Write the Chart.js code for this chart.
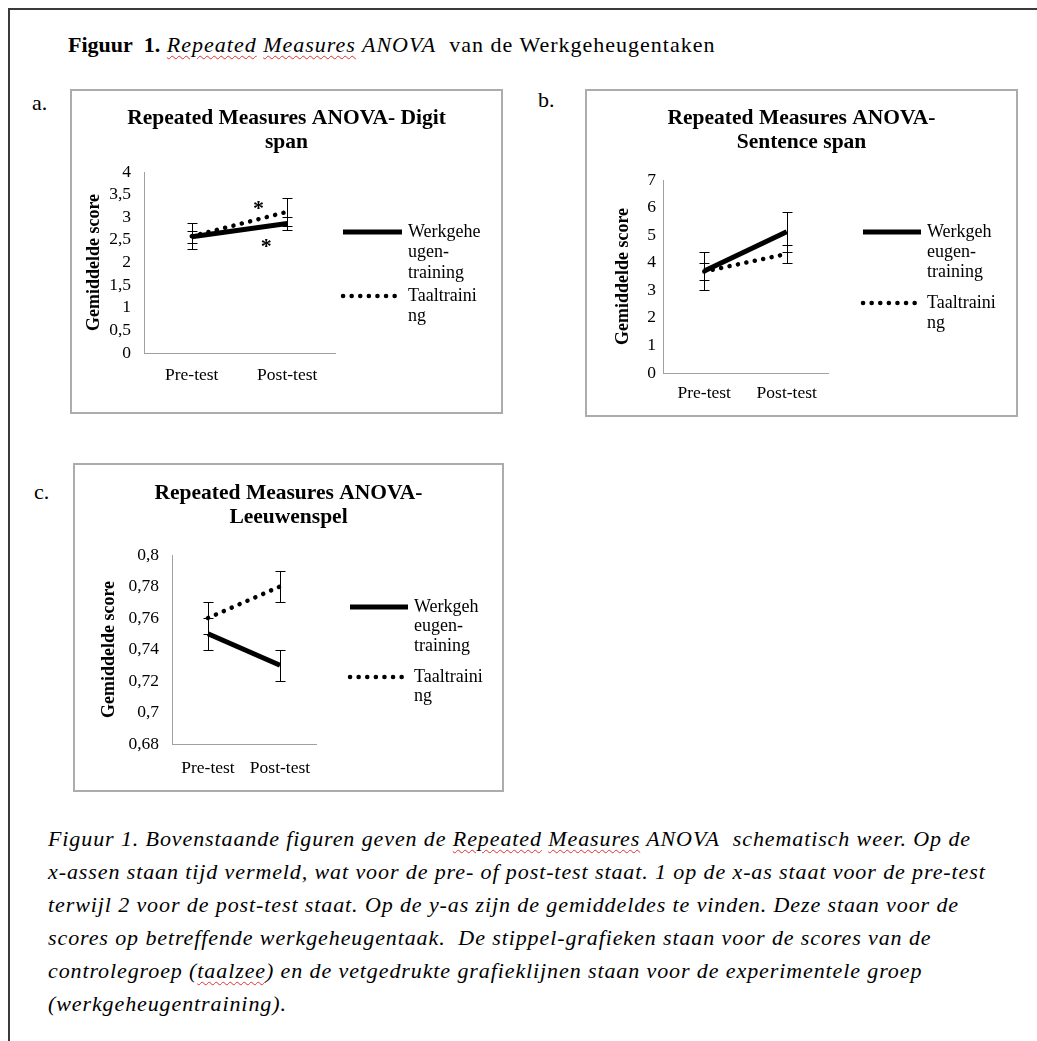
<!DOCTYPE html>
<html><head><meta charset="utf-8">
<script src="https://cdn.jsdelivr.net/npm/chart.js@4.4.1/dist/chart.umd.min.js"></script>
<style>
html,body{margin:0;padding:0;background:#fff;}
body{width:1037px;height:1041px;position:relative;overflow:hidden;font-family:'Liberation Serif','Times New Roman',serif;color:#000;}
#frame{position:absolute;left:8px;top:8px;width:1040px;height:1050px;border-left:2px solid #3a3a3a;border-top:2px solid #3a3a3a;}
.panel{position:absolute;}
.panel canvas{position:absolute;left:0;top:0;}
.panel .bd{position:absolute;left:0;top:0;right:0;bottom:0;border:2px solid #acacac;box-sizing:border-box;pointer-events:none;}
.lbl{position:absolute;font-size:22px;line-height:24px;}
#heading{position:absolute;left:68px;top:33px;font-size:22px;line-height:24px;white-space:nowrap;}
#heading .rest{letter-spacing:1px;}
.sp{text-decoration:underline wavy #e03030;text-decoration-thickness:1px;text-underline-offset:3px;}
#caption{position:absolute;left:48px;top:822px;font-size:22px;font-style:italic;line-height:33px;white-space:nowrap;letter-spacing:0.9px;}
</style></head>
<body>
<div id="frame"></div>
<div id="heading"><b>Figuur&nbsp; 1.</b><span class="rest"> <i><span class="sp">Repeated</span> <span class="sp">Measures</span> ANOVA</i>&nbsp; van de Werkgeheugentaken</span></div>
<div class="lbl" style="left:32px;top:91px;">a.</div>
<div class="lbl" style="left:538px;top:88px;">b.</div>
<div class="lbl" style="left:34px;top:480px;">c.</div>

<div class="panel" style="left:70px;top:89px;width:433px;height:325px;"><canvas id="cA" width="433" height="325"></canvas><div class="bd"></div></div>
<div class="panel" style="left:585px;top:89px;width:433px;height:328px;"><canvas id="cB" width="433" height="328"></canvas><div class="bd"></div></div>
<div class="panel" style="left:73px;top:463px;width:431px;height:329px;"><canvas id="cC" width="431" height="329"></canvas><div class="bd"></div></div>

<div id="caption">Figuur 1. Bovenstaande figuren geven de <span class="sp">Repeated</span> <span class="sp">Measures</span> ANOVA&nbsp; schematisch weer. Op de<br>x-assen staan tijd vermeld, wat voor de pre- of post-test staat. 1 op de x-as staat voor de pre-test<br>terwijl 2 voor de post-test staat. Op de y-as zijn de gemiddeldes te vinden. Deze staan voor de<br>scores op betreffende werkgeheugentaak.&nbsp; De stippel-grafieken staan voor de scores van de<br>controlegroep (<span class="sp">taalzee</span>) en de vetgedrukte grafieklijnen staan voor de experimentele groep<br>(werkgeheugentraining).</div>

<script>
// ---------- DATA ----------
const categories = ['Pre-test', 'Post-test'];
const seriesNames = ['Werkgeheugen-training', 'Taaltraining'];
const yAxisTitle = 'Gemiddelde score';

// a. Digit span
const titleA = ['Repeated Measures ANOVA- Digit', 'span'];
const digitWerk = [2.57, 2.86];
const digitWerkErr = [0.13, 0.14];
const digitTaal = [2.58, 3.12];
const digitTaalErr = [0.29, 0.31];
const digitTicks = [0, 0.5, 1, 1.5, 2, 2.5, 3, 3.5, 4];
const digitTickLabels = ['0', '0,5', '1', '1,5', '2', '2,5', '3', '3,5', '4'];
const digitStarX = [0.70, 0.78];
const digitStarY = [3.26, 2.43];
const legendA = [['Werkgehe', 'ugen-', 'training'], ['Taaltraini', 'ng']];

// b. Sentence span
const titleB = ['Repeated Measures ANOVA-', 'Sentence span'];
const sentWerk = [3.70, 5.12];
const sentWerkErr = [0.70, 0.73];
const sentTaal = [3.68, 4.32];
const sentTaalErr = [0.32, 0.33];
const sentTicks = [0, 1, 2, 3, 4, 5, 6, 7];
const sentTickLabels = ['0', '1', '2', '3', '4', '5', '6', '7'];
const legendB = [['Werkgeh', 'eugen-', 'training'], ['Taaltraini', 'ng']];

// c. Leeuwenspel
const titleC = ['Repeated Measures ANOVA-', 'Leeuwenspel'];
const leeuwWerk = [0.75, 0.73];
const leeuwWerkErr = [0.01, 0.01];
const leeuwTaal = [0.76, 0.78];
const leeuwTaalErr = [0.01, 0.01];
const leeuwTicks = [0.68, 0.70, 0.72, 0.74, 0.76, 0.78, 0.80];
const leeuwTickLabels = ['0,68', '0,7', '0,72', '0,74', '0,76', '0,78', '0,8'];
const legendC = [['Werkgeh', 'eugen-', 'training'], ['Taaltraini', 'ng']];

// ---------- PLUGINS ----------
Chart.defaults.font.family = "'Liberation Serif','Times New Roman',serif";
Chart.defaults.color = '#000';

const errorBarPlugin = {
  id: 'errorBars',
  afterDatasetsDraw(chart) {
    const ctx = chart.ctx, ys = chart.scales.y;
    chart.data.datasets.forEach((ds, di) => {
      if (!ds.errors) return;
      const meta = chart.getDatasetMeta(di);
      ctx.save();
      ctx.strokeStyle = '#000';
      ctx.lineWidth = 1;
      meta.data.forEach((pt, i) => {
        const v = ds.data[i], e = ds.errors[i];
        const x = Math.round(pt.x) + 0.5;
        const yt = Math.round(ys.getPixelForValue(v + e)) + 0.5;
        const yb = Math.round(ys.getPixelForValue(v - e)) + 0.5;
        ctx.beginPath();
        ctx.moveTo(x, yt); ctx.lineTo(x, yb);
        ctx.moveTo(x - 5, yt); ctx.lineTo(x + 5, yt);
        ctx.moveTo(x - 5, yb); ctx.lineTo(x + 5, yb);
        ctx.stroke();
      });
      ctx.restore();
    });
  }
};

const starPlugin = {
  id: 'stars',
  afterDatasetsDraw(chart, args, opts) {
    if (!opts || !opts.xs) return;
    const ctx = chart.ctx, xs = chart.scales.x, ys = chart.scales.y;
    ctx.save();
    ctx.font = 'bold 22px ' + Chart.defaults.font.family;
    ctx.fillStyle = '#000';
    ctx.textAlign = 'center';
    ctx.textBaseline = 'alphabetic';
    const m = ctx.measureText('*');
    const off = (m.actualBoundingBoxAscent - m.actualBoundingBoxDescent) / 2;
    opts.xs.forEach((xv, i) => {
      ctx.fillText('*', xs.getPixelForValue(xv), ys.getPixelForValue(opts.ys[i]) + off);
    });
    ctx.restore();
  }
};

const sideLegendPlugin = {
  id: 'sideLegend',
  afterDraw(chart, args, o) {
    if (!o || !o.lines) return;
    const ctx = chart.ctx;
    chart.data.datasets.forEach((ds, di) => {
      const y = o.ys[di];
      ctx.save();
      ctx.strokeStyle = ds.borderColor;
      ctx.lineWidth = ds.borderWidth;
      ctx.lineCap = ds.borderCapStyle || 'butt';
      ctx.setLineDash(ds.borderDash || []);
      ctx.beginPath();
      ctx.moveTo(o.x0, y); ctx.lineTo(o.x1, y);
      ctx.stroke();
      ctx.restore();
      ctx.save();
      ctx.font = '18px ' + Chart.defaults.font.family;
      ctx.fillStyle = '#000';
      ctx.textAlign = 'left';
      ctx.textBaseline = 'middle';
      o.lines[di].forEach((t, li) => ctx.fillText(t, o.tx, y + li * o.gap));
      ctx.restore();
    });
  }
};

function makeChart(id, title, werk, werkErr, taal, taalErr, yTicks, yLabels, g, legendLines, stars) {
  return new Chart(document.getElementById(id), {
    type: 'line',
    data: {
      labels: categories,
      datasets: [
        { label: seriesNames[0], data: werk, errors: werkErr, borderColor: '#000', borderWidth: 5,
          borderCapStyle: 'butt', pointRadius: 0, tension: 0, fill: false },
        { label: seriesNames[1], data: taal, errors: taalErr, borderColor: '#000', borderWidth: 4.5,
          borderDash: [0.1, 8.5], borderCapStyle: 'round', pointRadius: 0, tension: 0, fill: false }
      ]
    },
    options: {
      responsive: false,
      animation: false,
      devicePixelRatio: 1,
      layout: { padding: 0 },
      plugins: {
        legend: { display: false },
        tooltip: { enabled: false },
        title: { display: true, text: title, color: '#000',
          font: { size: 21.5, weight: 'bold', lineHeight: '24px' },
          padding: { top: g.tTop, bottom: g.tBot } },
        sideLegend: Object.assign({ lines: legendLines }, g.legend),
        stars: stars || {}
      },
      scales: {
        x: {
          type: 'category', offset: true,
          grid: { display: false, drawTicks: false },
          border: { display: true, color: '#a0a0a0', width: 1 },
          ticks: { padding: g.padX, font: { size: 17.5 }, color: '#000', maxRotation: 0, autoSkip: false },
          afterFit: s => { s.height = g.xH; }
        },
        y: {
          type: 'linear', position: 'left', min: yTicks[0], max: yTicks[yTicks.length - 1],
          grid: { display: false, drawTicks: false },
          border: { display: true, color: '#a0a0a0', width: 1 },
          afterBuildTicks: s => { s.ticks = yTicks.map(v => ({ value: v })); },
          ticks: { padding: g.padY, font: { size: 17.5 }, color: '#000', autoSkip: false,
            callback: (v, i) => yLabels[i] },
          title: { display: true, text: yAxisTitle, color: '#000', font: { size: 18, weight: 'bold' },
            padding: { top: g.yTitlePad, bottom: 0 } },
          afterFit: s => { s.width = g.yW; }
        },
        yR: {
          type: 'linear', position: 'right', display: true,
          grid: { display: false, drawTicks: false },
          border: { display: false },
          ticks: { display: false },
          afterFit: s => { s.width = g.rW; }
        }
      }
    },
    plugins: [errorBarPlugin, starPlugin, sideLegendPlugin]
  });
}

makeChart('cA', titleA, digitWerk, digitWerkErr, digitTaal, digitTaalErr, digitTicks, digitTickLabels,
  { yW: 74, rW: 168, tTop: 17, tBot: 18, xH: 61, padX: 12, padY: 13, yTitlePad: 14,
    legend: { x0: 273, x1: 332, tx: 338, ys: [143, 207], gap: 20.5 } },
  legendA, { xs: digitStarX, ys: digitStarY });

makeChart('cB', titleB, sentWerk, sentWerkErr, sentTaal, sentTaalErr, sentTicks, sentTickLabels,
  { yW: 78, rW: 190, tTop: 17, tBot: 26, xH: 44, padX: 10, padY: 7, yTitlePad: 28,
    legend: { x0: 278, x1: 336, tx: 342, ys: [143, 214], gap: 20 } },
  legendB);

makeChart('cC', titleC, leeuwWerk, leeuwWerkErr, leeuwTaal, leeuwTaalErr, leeuwTicks, leeuwTickLabels,
  { yW: 99, rW: 188, tTop: 18, tBot: 26, xH: 48, padX: 14, padY: 13, yTitlePad: 26,
    legend: { x0: 277, x1: 335, tx: 341, ys: [144, 214], gap: 19.5 } },
  legendC);
</script>
</body></html>
